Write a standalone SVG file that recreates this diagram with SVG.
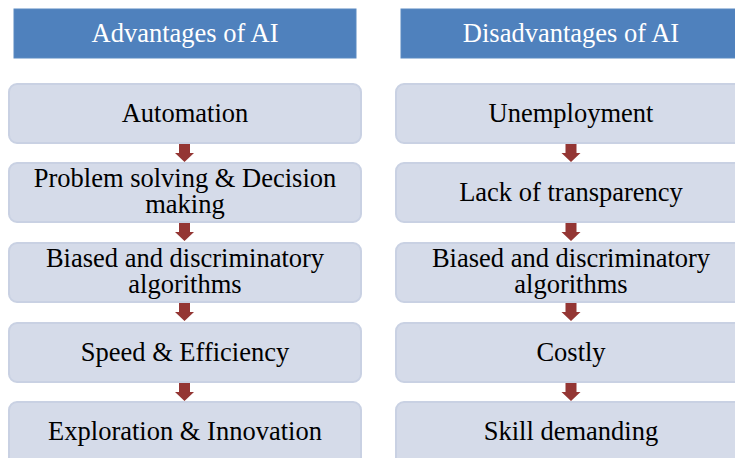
<svg xmlns="http://www.w3.org/2000/svg" width="735" height="458" viewBox="0 0 735 458">
  <style>
    .hdr { fill: #4F81BD; stroke: #5B8AC2; stroke-width: 1; }
    .hdr-t { fill: #FFFFFF; font-family: "Liberation Serif", "Times New Roman", serif; font-size: 26.5px; text-anchor: middle; }
    .box { fill: #D5DBE9; stroke: #C9D1E3; stroke-width: 2; }
    .box-t { fill: #000000; font-family: "Liberation Serif", "Times New Roman", serif; font-size: 26.5px; text-anchor: middle; }
    .arr { fill: #943634; }
  </style>
  <defs>
    <!-- down arrow, origin at top centre -->
    <path id="down" d="M -5.5 0 H 5.5 V 9 H 9.5 L 0 18 L -9.5 9 H -5.5 Z"/>
  </defs>
  <rect width="735" height="458" fill="#FFFFFF"/>

  <!-- column headers -->
  <g id="hdr-adv">
    <rect class="hdr" x="14" y="9" width="342" height="49"/>
    <text class="hdr-t" x="185" y="42">Advantages of AI</text>
  </g>
  <g id="hdr-dis">
    <rect class="hdr" x="401" y="9" width="340" height="49"/>
    <text class="hdr-t" x="571" y="42">Disadvantages of AI</text>
  </g>

  <!-- advantages column -->
  <g id="adv-1">
    <rect class="box" x="9" y="84" width="352" height="59" rx="8"/>
    <text class="box-t" x="185" y="122">Automation</text>
  </g>
  <g id="adv-2">
    <rect class="box" x="9" y="163" width="352" height="59" rx="8"/>
    <text class="box-t" x="185" y="187">Problem solving &amp; Decision<tspan x="185" dy="25.5">making</tspan></text>
  </g>
  <g id="adv-3">
    <rect class="box" x="9" y="243" width="352" height="59" rx="8"/>
    <text class="box-t" x="185" y="267">Biased and discriminatory<tspan x="185" dy="26">algorithms</tspan></text>
  </g>
  <g id="adv-4">
    <rect class="box" x="9" y="323" width="352" height="59" rx="8"/>
    <text class="box-t" x="185" y="361">Speed &amp; Efficiency</text>
  </g>
  <g id="adv-5">
    <rect class="box" x="9" y="402" width="352" height="64" rx="8"/>
    <text class="box-t" x="185" y="440">Exploration &amp; Innovation</text>
  </g>

  <!-- disadvantages column -->
  <g id="dis-1">
    <rect class="box" x="396" y="84" width="350" height="59" rx="8"/>
    <text class="box-t" x="571" y="122">Unemployment</text>
  </g>
  <g id="dis-2">
    <rect class="box" x="396" y="163" width="350" height="59" rx="8"/>
    <text class="box-t" x="571" y="201">Lack of transparency</text>
  </g>
  <g id="dis-3">
    <rect class="box" x="396" y="243" width="350" height="59" rx="8"/>
    <text class="box-t" x="571" y="267">Biased and discriminatory<tspan x="571" dy="26">algorithms</tspan></text>
  </g>
  <g id="dis-4">
    <rect class="box" x="396" y="323" width="350" height="59" rx="8"/>
    <text class="box-t" x="571" y="361">Costly</text>
  </g>
  <g id="dis-5">
    <rect class="box" x="396" y="402" width="350" height="64" rx="8"/>
    <text class="box-t" x="571" y="440">Skill demanding</text>
  </g>

  <!-- connectors -->
  <g id="connectors" class="arr">
    <use href="#down" x="184.5" y="144"/>
    <use href="#down" x="184.5" y="223"/>
    <use href="#down" x="184.5" y="303"/>
    <use href="#down" x="184.5" y="383"/>
    <use href="#down" x="571" y="144"/>
    <use href="#down" x="571" y="223"/>
    <use href="#down" x="571" y="303"/>
    <use href="#down" x="571" y="383"/>
  </g>
</svg>
